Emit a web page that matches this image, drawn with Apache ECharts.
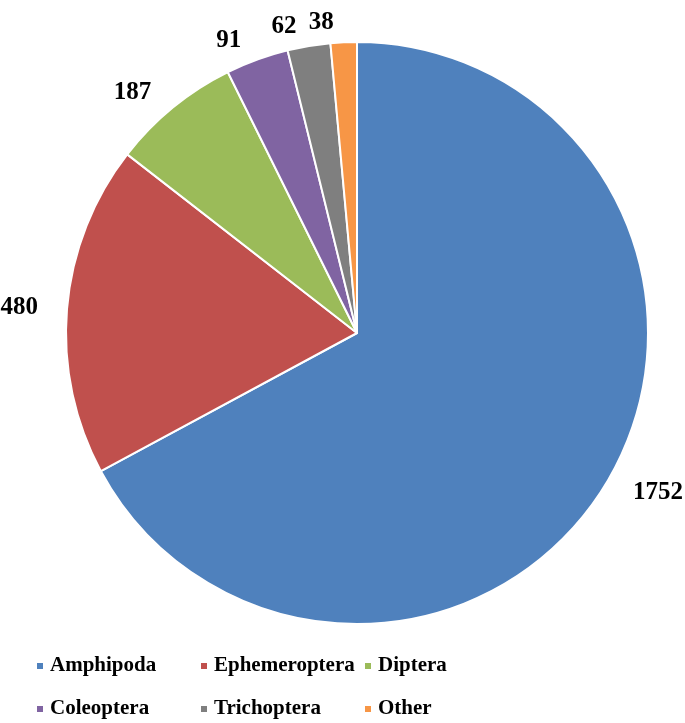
<!DOCTYPE html>
<html>
<head>
<meta charset="utf-8">
<script src="https://cdn.jsdelivr.net/npm/echarts@6/dist/echarts.min.js"></script>
<style>html,body{margin:0;padding:0;background:#fff;}#c{width:685px;height:723px;}</style>
</head>
<body>
<div id="c"></div>
<script>
var categories = ['Amphipoda', 'Ephemeroptera', 'Diptera', 'Coleoptera', 'Trichoptera', 'Other'];
var counts = [1752, 480, 187, 91, 62, 38];
var colors = ['#4F81BD', '#C0504D', '#9BBB59', '#8064A2', '#7F7F7F', '#F79646'];

var chart = echarts.init(document.getElementById('c'));
var font = "'Liberation Serif', 'Times New Roman', serif";
var legendPos = [[35, 654], [199, 654], [363, 654], [35, 697], [199, 697], [363, 697]];
var legends = categories.map(function (name, i) {
  return {
    data: [name],
    left: legendPos[i][0],
    top: legendPos[i][1],
    icon: 'rect',
    itemWidth: 8,
    itemHeight: 8,
    itemGap: 0,
    padding: 0,
    selectedMode: false,
    textStyle: { fontFamily: font, fontWeight: 'bold', fontSize: 21, color: '#000', lineHeight: 24, padding: [0, 0, 0, 1] }
  };
});
chart.setOption({
  animation: false,
  color: colors,
  legend: legends,
  series: [{
    type: 'pie',
    center: [357, 333],
    radius: [0, 291],
    startAngle: 90,
    clockwise: true,
    avoidLabelOverlap: false,
    data: categories.map(function (n, i) { return { name: n, value: counts[i] }; }),
    itemStyle: { borderColor: '#fff', borderWidth: 2 },
    label: {
      show: true,
      position: 'outside',
      formatter: '{c}',
      overflow: 'none',
      fontFamily: font,
      fontWeight: 'bold',
      fontSize: 25,
      color: '#000'
    },
    labelLine: { show: false, length: 20, length2: 4 },
    emphasis: { disabled: true }
  }]
});
</script>
</body>
</html>
